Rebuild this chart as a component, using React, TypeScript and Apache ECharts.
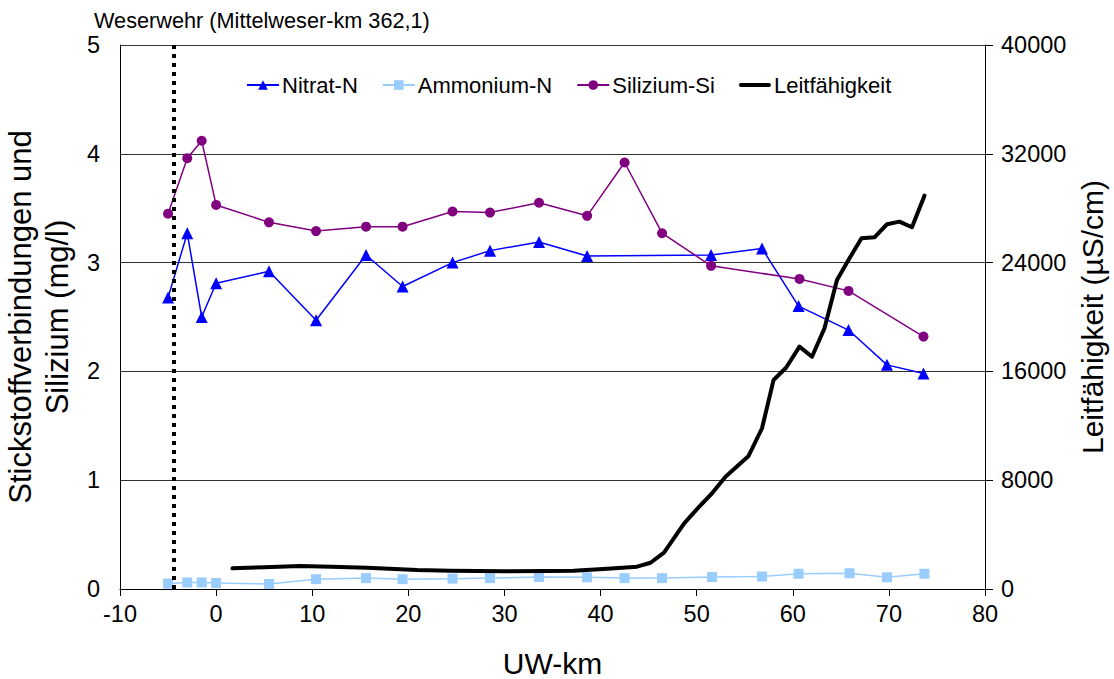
import React, { useEffect, useRef } from "react";
import * as echarts from "echarts";

const kmNitrat = [-5, -3, -1.5, 0, 5.5, 10.4, 15.6, 19.4, 24.6, 28.5, 33.6, 38.6, 51.5, 56.8, 60.6, 65.8, 69.8, 73.6];
const nitrat = [2.68, 3.27, 2.5, 2.81, 2.92, 2.47, 3.07, 2.78, 3.0, 3.11, 3.19, 3.06, 3.07, 3.13, 2.6, 2.38, 2.06, 1.98];

const kmAmmonium = [-5, -3, -1.5, 0, 5.5, 10.4, 15.6, 19.4, 24.6, 28.5, 33.6, 38.6, 42.5, 46.4, 51.6, 56.8, 60.6, 65.9, 69.8, 73.7];
const ammonium = [0.05, 0.06, 0.06, 0.055, 0.046, 0.09, 0.1, 0.09, 0.095, 0.1, 0.11, 0.107, 0.1, 0.1, 0.11, 0.115, 0.14, 0.145, 0.107, 0.14];

const kmSilizium = [-5, -3, -1.5, 0, 5.5, 10.4, 15.6, 19.4, 24.6, 28.5, 33.6, 38.6, 42.5, 46.4, 51.5, 60.7, 65.8, 73.6];
const silizium = [3.45, 3.96, 4.12, 3.53, 3.37, 3.29, 3.33, 3.33, 3.47, 3.46, 3.55, 3.43, 3.92, 3.27, 2.97, 2.85, 2.74, 2.32];

const kmLeit = [1.7, 5, 8.7, 12, 15.7, 20.9, 24.4, 30, 34.4, 37.2, 40.7, 43.8, 45.2, 46.6, 48.7, 50.1, 51.6, 53.0, 55.4, 56.8, 58.0, 59.3, 60.7, 62.0, 63.3, 64.6, 65.9, 67.15, 68.5, 69.8, 71.1, 72.4, 73.7];
const leitfaehigkeit = [1520, 1600, 1690, 1640, 1570, 1400, 1350, 1300, 1320, 1350, 1490, 1640, 1930, 2670, 4830, 5930, 7040, 8260, 9780, 11820, 15370, 16270, 17820, 17080, 19170, 22720, 24320, 25790, 25860, 26820, 27010, 26600, 28920];

const weserwehrKm = -4.4;
const xTicks = { min: -10, max: 80, interval: 10 };
const yLeftTicks = { min: 0, max: 5, interval: 1 };
const yRightTicks = { min: 0, max: 40000, interval: 8000 };

const zip = (xs: number[], ys: number[]) => xs.map((x, i) => [x, ys[i]]);

const FONT = "'Liberation Sans', Arial, sans-serif";

export default function App() {
  const ref = useRef<HTMLDivElement>(null);
  useEffect(() => {
    if (!ref.current) return;
    const chart = echarts.init(ref.current, undefined, { renderer: "svg" });
    chart.setOption({
      animation: false,
      backgroundColor: "#ffffff",
      textStyle: { fontFamily: FONT, color: "#000" },
      title: {
        text: "Weserwehr (Mittelweser-km 362,1)",
        left: 89,
        top: 4,
        textStyle: { fontFamily: FONT, fontSize: 21.7, fontWeight: "normal", color: "#000" },
      },
      legend: {
        data: [
          { name: "Nitrat-N" },
          { name: "Ammonium-N" },
          { name: "Silizium-Si" },
          {
            name: "Leitfähigkeit",
            icon: "path://M2,0 L30,0 A2,2 0 0 1 30,4 L2,4 A2,2 0 0 1 2,0 Z",
            itemStyle: { color: "#000" },
          },
        ],
        left: 241,
        top: 69,
        itemWidth: 32,
        itemHeight: 12,
        itemGap: 24,
        textStyle: { fontFamily: FONT, fontSize: 22, color: "#000", padding: [0, 0, 0, -2] },
      },
      grid: { left: 120, right: 129, top: 45, bottom: 90, containLabel: false, outerBoundsMode: "none" },
      xAxis: {
        type: "value",
        min: xTicks.min,
        max: xTicks.max,
        interval: xTicks.interval,
        name: "UW-km",
        nameLocation: "middle",
        nameGap: 59,
        nameTextStyle: { fontFamily: FONT, fontSize: 30, color: "#000" },
        axisLine: { onZero: false, lineStyle: { color: "#000", width: 1 } },
        axisTick: { show: true, inside: false, length: 7, lineStyle: { color: "#000" } },
        axisLabel: { fontFamily: FONT, fontSize: 23.5, color: "#000", margin: 13 },
        splitLine: { show: false },
      },
      yAxis: [
        {
          type: "value",
          min: yLeftTicks.min,
          max: yLeftTicks.max,
          interval: yLeftTicks.interval,
          position: "left",
          name: "Stickstoffverbindungen und\nSilizium (mg/l)",
          nameLocation: "middle",
          nameGap: 36,
          nameTextStyle: { fontFamily: FONT, fontSize: 31, color: "#000", lineHeight: 37 },
          axisLine: { show: true, onZero: false, lineStyle: { color: "#000", width: 1 } },
          axisTick: { show: false },
          axisLabel: { fontFamily: FONT, fontSize: 23.5, color: "#000", margin: 20 },
          splitLine: { show: true, lineStyle: { color: "#333", width: 1 } },
        },
        {
          type: "value",
          min: yRightTicks.min,
          max: yRightTicks.max,
          interval: yRightTicks.interval,
          position: "right",
          name: "Leitfähigkeit (µS/cm)",
          nameLocation: "middle",
          nameGap: 82,
          nameTextStyle: { fontFamily: FONT, fontSize: 30, color: "#000" },
          axisLine: { show: true, onZero: false, lineStyle: { color: "#000", width: 1 } },
          axisTick: { show: true, inside: false, length: 8, lineStyle: { color: "#000" } },
          axisLabel: {
            fontFamily: FONT,
            fontSize: 23.5,
            color: "#000",
            margin: 16,
            formatter: (v: number) => String(v),
          },
          splitLine: { show: false },
        },
      ],
      series: [
        {
          name: "Nitrat-N",
          type: "line",
          yAxisIndex: 0,
          data: zip(kmNitrat, nitrat),
          symbol: "triangle",
          symbolSize: 12,
          color: "#0000ff",
          lineStyle: { width: 1.5, color: "#0000ff" },
          itemStyle: { color: "#0000ff" },
          z: 4,
          markLine: {
            silent: true,
            symbol: "none",
            label: { show: false },
            lineStyle: { color: "#000", width: 4, type: [4, 5], cap: "butt" },
            data: [{ xAxis: weserwehrKm }],
          },
        },
        {
          name: "Ammonium-N",
          type: "line",
          yAxisIndex: 0,
          data: zip(kmAmmonium, ammonium),
          symbol: "rect",
          symbolSize: 10,
          color: "#99ccff",
          lineStyle: { width: 1.5, color: "#99ccff" },
          itemStyle: { color: "#99ccff" },
          z: 3,
        },
        {
          name: "Silizium-Si",
          type: "line",
          yAxisIndex: 0,
          data: zip(kmSilizium, silizium),
          symbol: "circle",
          symbolSize: 10,
          color: "#800080",
          lineStyle: { width: 1.5, color: "#800080" },
          itemStyle: { color: "#800080" },
          z: 4,
        },
        {
          name: "Leitfähigkeit",
          type: "line",
          yAxisIndex: 1,
          data: zip(kmLeit, leitfaehigkeit),
          symbol: "none",
          showSymbol: false,
          color: "#000",
          lineStyle: { width: 4, color: "#000", cap: "round", join: "round" },
          z: 5,
        },
      ],
    });
    return () => chart.dispose();
  }, []);
  return (
    <div
      ref={ref}
      style={{ position: "absolute", left: 0, top: 0, width: 1114, height: 679 }}
    />
  );
}
